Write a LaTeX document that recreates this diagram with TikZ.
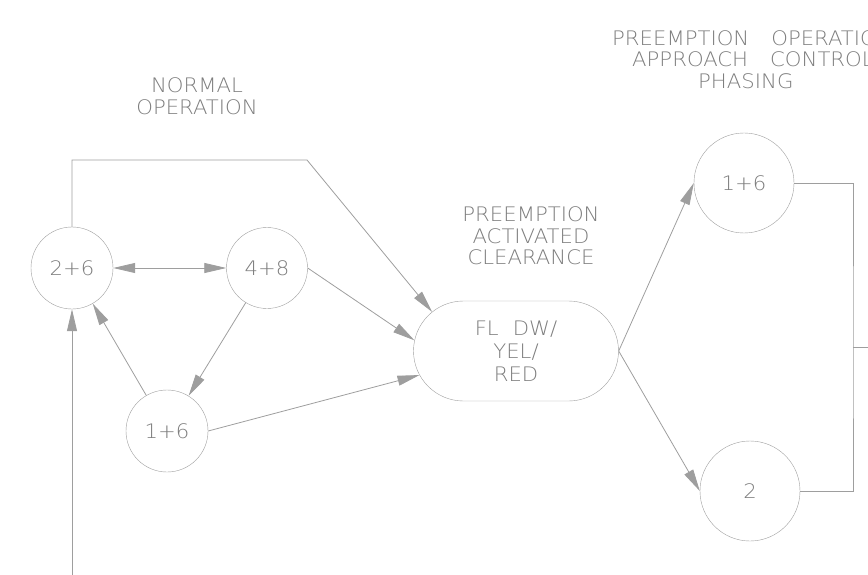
\documentclass[tikz,border=0pt]{standalone}
\usepackage{fontspec}
\IfFontExistsTF{DejaVu Sans ExtraLight}
  {\setmainfont{DejaVu Sans ExtraLight}[FakeStretch=1.06]}
  {\setmainfont{DejaVu Sans}[FakeStretch=1.06]}
\usepackage{xcolor}
\usetikzlibrary{arrows.meta,positioning,shapes.misc}
\definecolor{cadline}{RGB}{158,158,158}
\definecolor{cadtext}{RGB}{125,125,125}

\begin{document}
\begin{tikzpicture}[
  x=1pt, y=-1pt,
  phase/.style={draw=cadline, circle, inner sep=0pt, text=cadtext,
    font=\fontsize{20}{23}\selectfont},
  clearbox/.style={draw=cadline, rounded rectangle, inner sep=0pt,
    minimum width=205pt, minimum height=100pt, align=center, text=cadtext,
    font=\fontsize{20}{23}\selectfont},
  heading/.style={align=center, inner sep=0pt, text=cadtext,
    font=\fontsize{20}{21.5}\selectfont},
  link/.style={draw=cadline, line width=0.8pt},
  >={Triangle[length=22pt,width=10pt]}
]
\useasboundingbox (0,0) rectangle (868,575);

% normal operation loop
\node[phase, minimum size=82pt] (n26) at (72,268) {2+6};
\node[phase, minimum size=81pt] (n48) at (267,268) {4+8};
\node[phase, minimum size=82pt] (n16) at (167,431) {1+6};

% clearance state
\node[clearbox] (clr) at (516,351) {FL\hspace{0.7em}DW/\\YEL/\\RED};

% preemption phases
\node[phase, minimum size=100pt] (p16) at (744,183) {1+6};
\node[phase, minimum size=100pt] (p2) at (750,491) {2};

% headings
\node[heading] (normal) at (197,96) {NORMAL\\OPERATION};
\node[heading] (activated) at (531,236) {PREEMPTION\\ACTIVATED\\CLEARANCE};
\node[heading, align=left, anchor=north west] (approach) at (612,30)
  {PREEMPTION\hspace{1.1em}OPERATION\\
   \hspace*{20pt}APPROACH\hspace{1.1em}CONTROL\\
   \hspace*{86pt}PHASING};

\coordinate (topbend) at (307,160);
\coordinate (feed) at (72,575);
\coordinate (bus) at (853,347);

\draw[link,->] (n26.north) |- (topbend) -- (clr.155);
\draw[link,<->] (n26) -- (n48);
\draw[link,->] (n48.east) -- (clr.174);
\draw[link,->] (n48) -- (n16);
\draw[link,->] (n16) -- (n26);
\draw[link,->] (n16.east) -- (clr.194);
\draw[link,->] (feed) -- (n26.south);

\draw[link,->] (clr.east) -- (p16.west);
\draw[link,->] (clr.east) -- (p2.west);
\draw[link] (p16.east) -| (bus) |- (p2.east);
\draw[link] (bus) -- ++(20,0);
\end{tikzpicture}
\end{document}
